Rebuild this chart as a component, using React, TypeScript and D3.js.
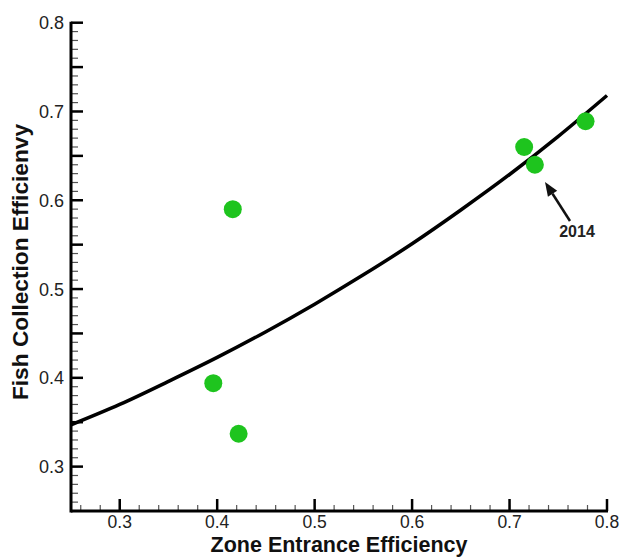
import React from "react";
import * as d3 from "d3";

const pointsX = [0.416, 0.396, 0.422, 0.715, 0.726, 0.778];
const pointsY = [0.59, 0.394, 0.337, 0.66, 0.64, 0.689];

const curveX = [0.25, 0.3, 0.35, 0.4, 0.45, 0.5, 0.55, 0.6, 0.65, 0.7, 0.75, 0.8];
const curveY = [0.347, 0.37, 0.396, 0.423, 0.452, 0.483, 0.516, 0.551, 0.589, 0.629, 0.672, 0.718];

const xTickLabels = [0.3, 0.4, 0.5, 0.6, 0.7, 0.8];
const yTickLabels = [0.3, 0.4, 0.5, 0.6, 0.7, 0.8];

const W = 623;
const H = 557;
const left = 71;
const right = 607;
const top = 22.7;
const bottom = 511;

export default function App() {
  const x = d3.scaleLinear().domain([0.25, 0.8]).range([left, right]);
  const y = d3.scaleLinear().domain([0.25, 0.8]).range([bottom, top]);

  const xMinor = d3.range(26, 81, 2).map((v) => v / 100);
  const xMajor = d3.range(3, 9, 1).map((v) => v / 10);
  const yMinor = d3.range(26, 81, 1).map((v) => v / 100);
  const yMajor = d3.range(30, 81, 5).map((v) => v / 100);

  const line = d3
    .line<number>()
    .x((_, i) => x(curveX[i]))
    .y((d) => y(d))
    .curve(d3.curveMonotoneX);

  const font = "Liberation Sans, Arial, sans-serif";

  // arrow geometry
  const tip = [545, 182];
  const tail = [570, 221];
  const ang = Math.atan2(tip[1] - tail[1], tip[0] - tail[0]);
  const hl = 14;
  const hw = 5.5;
  const bx = tip[0] - hl * Math.cos(ang);
  const by = tip[1] - hl * Math.sin(ang);
  const px = -Math.sin(ang) * hw;
  const py = Math.cos(ang) * hw;
  const head = `M${tip[0]},${tip[1]} L${bx + px},${by + py} L${bx - px},${by - py} Z`;

  return (
    <svg
      width={W}
      height={H}
      style={{ position: "absolute", left: 0, top: 0, background: "#fff" }}
    >
      <rect width={W} height={H} fill="#fff" />
      {/* curve */}
      <path d={line(curveY) || ""} fill="none" stroke="#000" strokeWidth={3.5} />
      {/* points */}
      {pointsX.map((px, i) => (
        <circle key={i} cx={x(px)} cy={y(pointsY[i])} r={9} fill="#1ec41e" />
      ))}
      {/* axes */}
      <g stroke="#000">
        {xMinor.map((v) => (
          <line key={"xm" + v} x1={x(v)} x2={x(v)} y1={bottom} y2={bottom - 6} strokeWidth={1.2} stroke="#555" />
        ))}
        {xMajor.map((v) => (
          <line key={"xM" + v} x1={x(v)} x2={x(v)} y1={bottom} y2={bottom - 12} strokeWidth={2.5} />
        ))}
        {yMinor.map((v) => (
          <line key={"ym" + v} x1={left} x2={left + 7} y1={y(v)} y2={y(v)} strokeWidth={1.2} stroke="#555" />
        ))}
        {yMajor.map((v) => (
          <line key={"yM" + v} x1={left} x2={left + 12} y1={y(v)} y2={y(v)} strokeWidth={2.5} />
        ))}
        <line x1={left} x2={right + 1} y1={bottom} y2={bottom} strokeWidth={3} />
        <line x1={left} x2={left} y1={top - 1} y2={bottom + 1.5} strokeWidth={3} />
      </g>
      {/* tick labels */}
      <g fontFamily={font} fontSize={18} fill="#222">
        {xTickLabels.map((v) => (
          <text key={"xl" + v} x={x(v)} y={bottom + 17} textAnchor="middle" fontSize={17.5}>
            {v.toFixed(1)}
          </text>
        ))}
        {yTickLabels.map((v) => (
          <text key={"yl" + v} x={left - 7} y={y(v) + 6.5} textAnchor="end">
            {v.toFixed(1)}
          </text>
        ))}
      </g>
      {/* axis titles */}
      <text
        x={339}
        y={552}
        textAnchor="middle"
        fontFamily={font}
        fontWeight="bold"
        fontSize={21.5}
        fill="#111"
      >
        Zone Entrance Efficiency
      </text>
      <text
        transform={`translate(28, ${262}) rotate(-90)`}
        textAnchor="middle"
        fontFamily={font}
        fontWeight="bold"
        fontSize={22.7}
        fill="#111"
      >
        Fish Collection Efficienvy
      </text>
      {/* annotation */}
      <line x1={tail[0]} y1={tail[1]} x2={bx} y2={by} stroke="#111" strokeWidth={2.5} />
      <path d={head} fill="#111" />
      <text x={577} y={237} textAnchor="middle" fontFamily={font} fontWeight="bold" fontSize={16} fill="#222">
        2014
      </text>
    </svg>
  );
}
